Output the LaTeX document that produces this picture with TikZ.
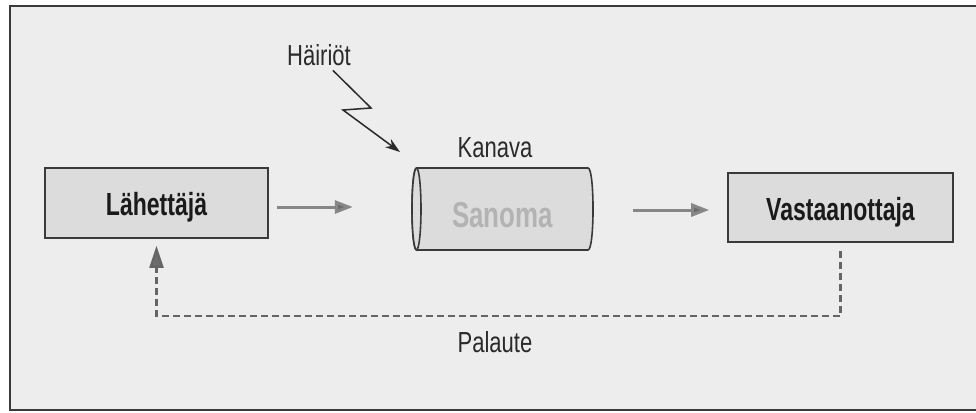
\documentclass[tikz,border=0pt]{standalone}
\usepackage{fontspec}
\setmainfont{Liberation Sans}[FakeStretch=0.72]
\newfontfamily\lblfont{Liberation Sans}[FakeStretch=0.76]
\usetikzlibrary{arrows.meta,calc}
\definecolor{bg}{HTML}{EDEDED}
\definecolor{boxfill}{HTML}{DCDCDC}
\definecolor{edge}{HTML}{3A3A3A}
\definecolor{flowc}{HTML}{878787}
\definecolor{sanc}{HTML}{B3B3B3}
\definecolor{ink}{HTML}{1A1A1A}
\definecolor{ink2}{HTML}{2A2A2A}
\begin{document}
\begin{tikzpicture}[x=1pt,y=-1pt,
  box/.style={draw=edge, line width=1.6pt, fill=boxfill, inner sep=0pt,
    font=\fontsize{32}{35}\selectfont\bfseries, text=ink,
    text height=25pt, text depth=0pt},
  lbl/.style={anchor=base, font=\lblfont\fontsize{29}{32}\selectfont, text=ink2, inner sep=0pt},
  flow/.style={line width=3pt, draw=flowc,
    -{Triangle[length=18pt,width=13pt,fill=flowc!80!black]}},
  fb/.style={line width=2.4pt, draw=flowc!75!black, dash pattern=on 7pt off 4pt,
    -{Triangle[length=22pt,width=14pt,fill=flowc!80!black]}},
  bolt/.style={line width=1.5pt, draw=ink2, line join=miter,
    -{Stealth[length=15pt,width=10pt]}},
  canbody/.style={fill=boxfill, draw=edge, line width=1.6pt}
]
\useasboundingbox (0,0) rectangle (976,412);
\fill[white] (0,0) rectangle (976,412);
\fill[bg] (10,6) rectangle (990,410);
\draw[edge, line width=1.5pt] (990,6) -- (10,6) -- (10,410) -- (990,410);

% sender and receiver
\node[box, minimum width=223pt, minimum height=70pt] (lah) at (156.5,203) {Lähettäjä};
\node[box, minimum width=225pt, minimum height=69pt] (vas) at (840.5,207.5) {Vastaanottaja};

% channel (cylinder)
\path[canbody] (416.5,168) -- (588,168)
  .. controls (594.7,168) and (594.7,250) .. (588,250)
  -- (416.5,250)
  .. controls (410.5,250) and (410.5,168) .. (416.5,168) -- cycle;
\path[canbody] (416.5,209) ellipse [x radius=4.5pt, y radius=41pt];
\node[inner sep=0pt, minimum width=181pt, minimum height=82pt,
  font=\fontsize{36}{39}\selectfont\bfseries, text=sanc,
  text height=36pt, text depth=0pt] (can) at (502.5,209) {Sanoma};

% labels
\node[lbl] (kan) at (495,157) {Kanava};
\node[lbl] (pal) at (495,352) {Palaute};
\node[lbl] (hai) at (319,65) {Häiriöt};

% flow arrows
\draw[flow, shorten <=8pt, shorten >=59pt] (lah.east |- 0,207) -- (can.west |- 0,207);
\draw[flow, shorten <=40pt, shorten >=18pt] (can.east |- 0,210) -- (vas.west |- 0,210);

% feedback
\draw[fb, shorten <=8pt, shorten >=7pt] (vas.south) -- ++(0,73) -| (lah.south);

% disturbance bolt
\coordinate (z1) at (371,108);
\coordinate (z2) at (343,110);
\coordinate (zt) at (400,152);
\draw[bolt] ([xshift=14pt,yshift=-5pt]hai.south) -- (z1) -- (z2) -- (zt);
\end{tikzpicture}
\end{document}
